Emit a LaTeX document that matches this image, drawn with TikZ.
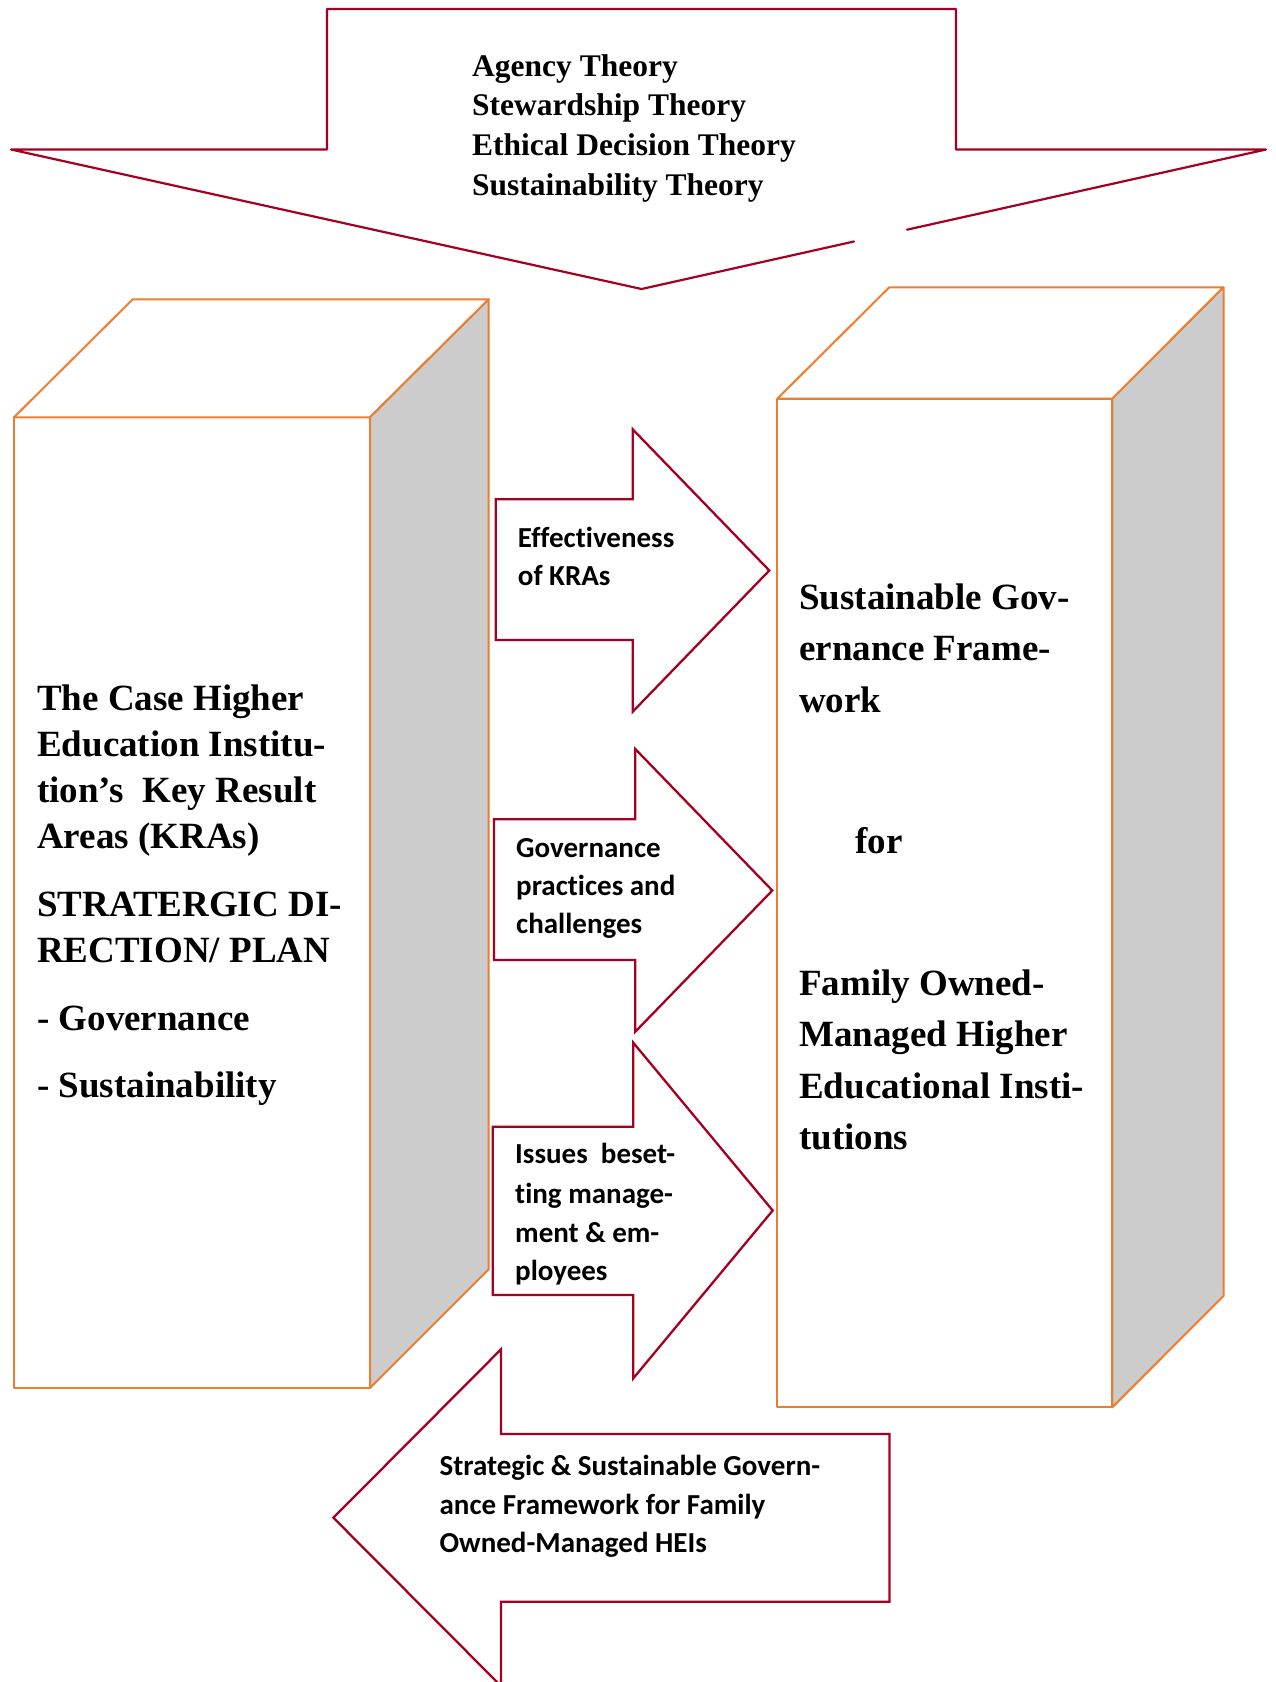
\documentclass[tikz,border=0pt]{standalone}
\usepackage{fontspec}
\setmainfont{Liberation Serif}
\newfontfamily\calibrifont{Carlito}[Ligatures=NoCommon]
\definecolor{arrowred}{RGB}{165,0,33}
\definecolor{boxorange}{RGB}{237,125,49}
\definecolor{sidegray}{RGB}{204,204,204}
\begin{document}
\begin{tikzpicture}[x=1pt,y=-1pt,
  redarrow/.style={draw=arrowred,line width=2.3pt,fill=white,line join=miter},
  redline/.style={draw=arrowred,line width=2.2pt,line join=round,line cap=round},
  boxline/.style={draw=boxorange,line width=2pt,line join=round},
  frontface/.style={boxline,fill=white},
  sideface/.style={boxline,fill=sidegray},
  theorytxt/.style={anchor=base west,inner sep=0pt,font=\fontsize{31.5}{38}\selectfont\bfseries},
  boxtxt/.style={anchor=base west,inner sep=0pt,font=\fontsize{37}{45}\selectfont\bfseries},
  arrowtxt/.style={anchor=base west,inner sep=0pt,font=\fontsize{29}{35}\selectfont\calibrifont\bfseries}]

\useasboundingbox[fill=white] (0,0) rectangle (1275,1682);

% ---------- top arrow ----------
\coordinate (TgA) at (907,229.7);
\coordinate (TR) at (1266,149.5);
\coordinate (TSR) at (956,149.5);
\coordinate (TTR) at (956,9);
\coordinate (TTL) at (327,9);
\coordinate (TSL) at (327,149.5);
\coordinate (TL) at (11,149.5);
\coordinate (Ttip) at (641.6,289);
\coordinate (TgB) at (854,241.5);
\fill[white] (TR) -- (TSR) -- (TTR) -- (TTL) -- (TSL) -- (TL) -- (Ttip) -- cycle;
\draw[redline] (TgA) -- (TR) -- (TSR) -- (TTR) -- (TTL) -- (TSL) -- (TL) -- (Ttip) -- (TgB);
\node[theorytxt] (th1) at (472,76) {Agency Theory};
\node[theorytxt] (th2) at (472,115.7) {Stewardship Theory};
\node[theorytxt] (th3) at (472,155.3) {Ethical Decision Theory};
\node[theorytxt] (th4) at (472,195) {Sustainability Theory};

% ---------- left box ----------
\coordinate (LFtl) at (14,417.3);
\coordinate (LFtr) at (370,417.3);
\coordinate (LFbr) at (370,1388);
\coordinate (LFbl) at (14,1388);
\coordinate (LBtl) at (132.7,299.3);
\coordinate (LBtr) at (488.7,299.3);
\coordinate (LBbr) at (488.7,1269.3);
\draw[frontface] (LFtl) -- (LFtr) -- (LFbr) -- (LFbl) -- cycle;
\draw[frontface] (LFtl) -- (LBtl) -- (LBtr) -- (LFtr) -- cycle;
\draw[sideface] (LFtr) -- (LBtr) -- (LBbr) -- (LFbr) -- cycle;
\node[boxtxt] (l1) at (37,710) {The Case Higher};
\node[boxtxt] (l2) at (37,756) {Education Institu-};
\node[boxtxt] (l3) at (37,802) {tion’s\ \ Key Result};
\node[boxtxt] (l4) at (37,848) {Areas (KRAs)};
\node[boxtxt] (l5) at (37,916.5) {STRATERGIC DI-};
\node[boxtxt] (l6) at (37,962.5) {RECTION/ PLAN};
\node[boxtxt] (l7) at (37,1030.5) {- Governance};
\node[boxtxt] (l8) at (37,1097) {- Sustainability};

% ---------- right box ----------
\coordinate (RFtl) at (777.3,398.7);
\coordinate (RFtr) at (1112.3,398.7);
\coordinate (RFbr) at (1112.3,1407.3);
\coordinate (RFbl) at (777.3,1407.3);
\coordinate (RBtl) at (889.3,287.3);
\coordinate (RBtr) at (1223.5,287.3);
\coordinate (RBbr) at (1223.5,1296);
\draw[frontface] (RFtl) -- (RFtr) -- (RFbr) -- (RFbl) -- cycle;
\draw[frontface] (RFtl) -- (RBtl) -- (RBtr) -- (RFtr) -- cycle;
\draw[sideface] (RFtr) -- (RBtr) -- (RBbr) -- (RFbr) -- cycle;
\node[boxtxt] (r1) at (799,609) {Sustainable Gov-};
\node[boxtxt] (r2) at (799,660.5) {ernance Frame-};
\node[boxtxt] (r3) at (799,712) {work};
\node[boxtxt] (r4) at (855,853) {for};
\node[boxtxt] (r5) at (799,995) {Family Owned-};
\node[boxtxt] (r6) at (799,1046.5) {Managed Higher};
\node[boxtxt] (r7) at (799,1098) {Educational Insti-};
\node[boxtxt] (r8) at (799,1149.5) {tutions};

% ---------- right arrows ----------
\draw[redarrow] (495.7,499.3) -- (632.7,499.3) -- (632.7,429.3) -- (769.3,570.5)
  -- (632.7,711.7) -- (632.7,640) -- (495.7,640) -- cycle;
\node[arrowtxt] (a1) at (517.7,547.7) {Effectiveness};
\node[arrowtxt] (a2) at (517.7,585.7) {of KRAs};

\draw[redarrow] (494,819.3) -- (635.3,819.3) -- (635.3,749) -- (772.3,890.5)
  -- (635.3,1031.7) -- (635.3,960) -- (494,960) -- cycle;
\node[arrowtxt] (b1) at (516,857.5) {Governance};
\node[arrowtxt] (b2) at (516,895.5) {practices and};
\node[arrowtxt] (b3) at (516,933.3) {challenges};

\draw[redarrow] (492.7,1126.7) -- (633.3,1126.7) -- (633.3,1042.7) -- (772.7,1210.5)
  -- (633.3,1378.3) -- (633.3,1295) -- (492.7,1295) -- cycle;
\node[arrowtxt] (c1) at (515,1163.3) {Issues\ \ beset-};
\node[arrowtxt] (c2) at (515,1203) {ting manage-};
\node[arrowtxt] (c3) at (515,1242) {ment \& em-};
\node[arrowtxt] (c4) at (515,1280) {ployees};

% ---------- bottom arrow ----------
\draw[redarrow] (333.4,1517.7) -- (501,1349.3) -- (501,1434) -- (889.5,1434)
  -- (889.5,1601.7) -- (501,1601.7) -- (501,1686) -- cycle;
\node[arrowtxt] (d1) at (439.4,1475.5) {Strategic \& Sustainable Govern-};
\node[arrowtxt] (d2) at (439.4,1514.5) {ance Framework for Family};
\node[arrowtxt] (d3) at (439.4,1552.5) {Owned-Managed HEIs};
\end{tikzpicture}
\end{document}
